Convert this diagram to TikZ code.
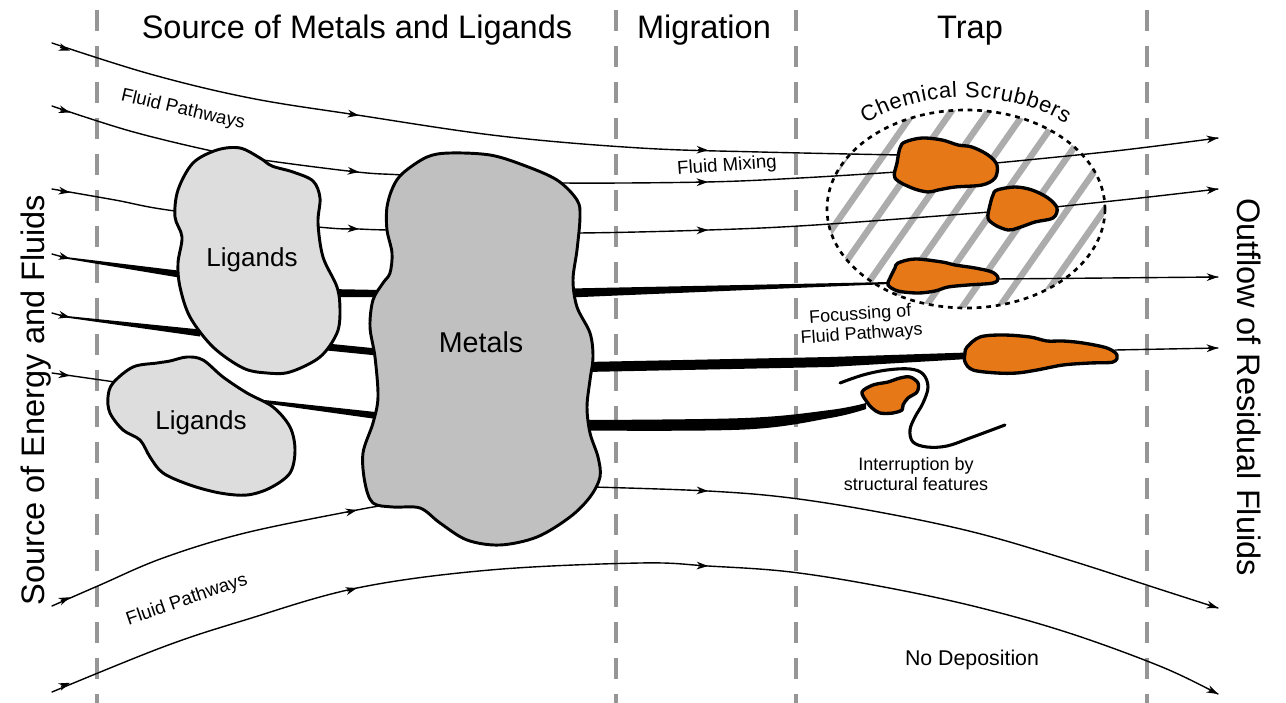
\documentclass[tikz,border=0pt]{standalone}
\usepackage{fontspec}
\setmainfont{Liberation Sans}
\usetikzlibrary{arrows.meta,decorations.text}
\definecolor{orangefill}{RGB}{230,120,23}
\definecolor{ligfill}{RGB}{221,221,221}
\definecolor{metfill}{RGB}{192,192,192}
\definecolor{dashgray}{RGB}{150,150,150}
\definecolor{hatchgray}{RGB}{172,172,172}
\begin{document}
\begin{tikzpicture}[x=0.75pt,y=-0.75pt,
  flow/.style={line width=1.05pt, line cap=round},
  tip/.style={line width=1.05pt, -{Stealth[length=8.5pt,width=5.8pt]}},
  thick flow/.style={fill=black},
  divider/.style={dashgray, line width=2.3pt, dash pattern=on 16pt off 11pt},
  hatch/.style={hatchgray, line width=4.8pt},
  scrub/.style={black, line width=2pt, dash pattern=on 3.6pt off 3.6pt},
  ligblob/.style={draw=black, fill=ligfill, line width=2.2pt, line join=round},
  metblob/.style={draw=black, fill=metfill, line width=2.2pt, line join=round},
  oreblob/.style={draw=black, fill=orangefill, line width=2.5pt, line join=round},
  fault/.style={black, line width=2.3pt, line cap=round},
  title/.style={font=\fontsize{24.4}{28}\selectfont, anchor=base},
  lbl/.style={font=\fontsize{13.5}{15}\selectfont, align=center},
  blobtext/.style={font=\fontsize{19.5}{22}\selectfont},
]
\useasboundingbox (0,0) rectangle (1286,703);
\fill[white] (0,0) rectangle (1286,703);

% dashed dividers
\foreach \xx/\nm in {97/d1,616/d2,796/d3,1147/d4}{
  \coordinate (\nm top) at (\xx,10);
  \coordinate (\nm bot) at (\xx,703);
  \draw[divider] (\nm top) -- (\nm bot);
}

% chemical scrubbers hatch
\coordinate (scrubc) at (966,209);
\begin{scope}
  \clip (scrubc) ellipse [x radius=139, y radius=99];
  \foreach \k in {-6,...,6}{
    \draw[hatch] ({957+37*\k-84},329) -- ({957+37*\k+84},89);
  }
\end{scope}
\draw[scrub] (scrubc) ellipse [x radius=139, y radius=99];
\path[decorate, decoration={text along path, text align={fit to path},
   text={|\fontsize{16.5}{18}\selectfont|Chemical Scrubbers}}]
   (865.4,123.6) arc[start angle=230, end angle=310, x radius=156, y radius=112];

% thin flow lines
\draw[flow] plot[smooth, tension=0.6] coordinates {(52,43) (150,74) (250,98) (357,115) (500,136) (640,148) (760,152) (900,155)};
\draw[flow] plot[smooth, tension=0.6] coordinates {(996,163) (1115,151) (1218,138)};
\draw[flow] plot[smooth, tension=0.6] coordinates {(52,106) (130,131) (212,151) (263,160) (357,172) (403,175) (480,180) (563,183) (706,182) (800,178) (897,172)};
\draw[flow] plot[smooth, tension=0.6] coordinates {(52,189) (115,200) (175,211) (318,227) (359,229) (387,230) (480,232) (578,233) (708,230) (815,225) (990,212)};
\draw[flow] plot[smooth, tension=0.6] coordinates {(1055,207) (1140,198) (1218,189)};
\draw[flow] (52,254) -- (62,256.8);
\draw[flow] (996,279) -- (1218,277);
\draw[flow] (52,313) -- (62,315.8);
\draw[flow] (1115,350) -- (1218,348);
\draw[flow] (52,373) -- (115,382);
\draw[flow] plot[smooth, tension=0.6] coordinates {(52,606) (100,585) (163,558) (245,533) (357,510) (387,505)};
\draw[flow] plot[smooth, tension=0.6] coordinates {(592,487) (708,491) (791,498) (884,513) (977,533) (1069,560) (1162,590) (1218,608)};
\draw[flow] plot[smooth, tension=0.6] coordinates {(52,692) (163,647) (245,620) (357,588) (490,570) (640,563) (708,566) (791,572) (884,587) (977,607) (1069,633) (1162,667) (1218,694)};

% thick flow bands
\fill[thick flow] (60,256.3) -- (182,271) -- (182,278) -- (60,257.7) -- cycle;
\fill[thick flow] (328,289) -- (382,290) -- (382,297) -- (328,297) -- cycle;
\fill[thick flow] (570,288.5) -- (890,282) -- (890,284) -- (570,297.5) -- cycle;
\fill[thick flow] (60,315.3) -- (200,329.5) -- (200,336.5) -- (60,316.7) -- cycle;
\fill[thick flow] (322,343) -- (382,349) -- (382,356) -- (322,350) -- cycle;
\fill[thick flow] (585,362) -- (830,357) -- (968,352.5) -- (968,359) -- (830,367) -- (585,372) -- cycle;
\fill[thick flow] (255,399) -- (380,412.5) -- (380,419.5) -- (255,402) -- cycle;
\fill[thick flow] plot[smooth, tension=0.6] coordinates {(582,420) (745,418) (830,410) (866,403)}
   -- plot[smooth, tension=0.6] coordinates {(866,409) (830,418) (745,429.5) (582,430.5)} -- cycle;

% ligands and metals
\draw[ligblob] plot[smooth cycle, tension=0.55] coordinates {(217,150) (240,148) (260,158) (272,166) (293,172) (313,181) (320,198) (318,223) (323,257) (337,287) (340,310) (337,333) (320,357) (290,372) (267,373) (243,368) (213,347) (190,317) (180,287) (178,263) (182,237) (175,217) (178,190) (193,163)};
\draw[ligblob] plot[smooth cycle, tension=0.55] coordinates {(113,383) (133,367) (157,363) (170,361) (187,357) (203,360) (223,377) (247,393) (273,407) (290,427) (295,450) (290,473) (270,488) (247,495) (220,493) (190,485) (163,473) (150,457) (140,440) (123,430) (110,413) (108,397)};
\draw[metblob] plot[smooth cycle, tension=0.55] coordinates {(403,173) (427,157) (450,153) (490,155) (523,165) (557,180) (577,200) (580,217) (577,250) (573,280) (577,307) (590,333) (593,357) (590,380) (587,407) (590,433) (598,457) (600,477) (590,497) (570,517) (537,537) (500,545) (467,540) (440,523) (420,508) (393,507) (373,503) (365,483) (363,453) (373,423) (378,397) (375,357) (370,327) (373,300) (383,283) (390,273) (392,253) (387,230) (387,207) (393,187)};

% ore deposits
\draw[oreblob] plot[smooth cycle, tension=0.55] coordinates {(905,142) (922,138) (942,140) (958,145) (972,147) (988,155) (997,165) (995,178) (982,185) (955,187) (938,190) (928,192) (912,188) (895,178) (897,163) (900,148)};
\draw[oreblob] plot[smooth cycle, tension=0.55] coordinates {(997,190) (1015,187) (1032,190) (1048,198) (1057,208) (1053,218) (1035,222) (1018,228) (1008,230) (995,225) (988,218) (990,205) (993,195)};
\draw[oreblob] plot[smooth cycle, tension=0.55] coordinates {(898,263) (915,259) (942,262) (955,265) (975,268) (992,272) (998,278) (993,283) (968,285) (948,287) (935,291) (918,293) (898,291) (888,285) (890,278) (895,268)};
\draw[oreblob] plot[smooth cycle, tension=0.55] coordinates {(967,347) (980,337) (1003,335) (1030,337) (1047,341) (1063,341) (1083,343) (1107,348) (1117,355) (1113,362) (1090,363) (1063,365) (1037,370) (1017,373) (997,373) (973,370) (965,362) (965,353)};
\draw[oreblob] plot[smooth cycle, tension=0.55] coordinates {(862,392) (873,385) (888,382) (900,378) (910,377) (918,383) (917,392) (908,398) (903,405) (902,410) (893,413) (880,413) (872,408) (867,402)};

% structural feature
\draw[fault] plot[smooth, tension=0.6] coordinates {(840,383) (863,375) (887,370) (910,369) (923,374) (928,387) (923,403) (915,417) (910,430) (913,442) (927,447) (947,446) (970,438) (1005,425)};

% arrow tips
\draw[tip] (60,47.3) -- (70,50.6);
\draw[tip] (349,113.8) -- (359,115.5);
\draw[tip] (698,149.8) -- (708,150.2);
\draw[tip] (1208,139.3) -- (1218,138);
\draw[tip] (60,109.5) -- (70,112.5);
\draw[tip] (349,170.9) -- (359,172);
\draw[tip] (698,182.2) -- (708,182);
\draw[tip] (60,190.8) -- (70,192.5);
\draw[tip] (349,228.5) -- (359,229);
\draw[tip] (698,230.3) -- (708,230);
\draw[tip] (1208,190.2) -- (1218,189);
\draw[tip] (60,256.2) -- (70,258.7);
\draw[tip] (1208,277.1) -- (1218,277);
\draw[tip] (60,315) -- (70,317.3);
\draw[tip] (1208,348.2) -- (1218,348);
\draw[tip] (60,374.4) -- (70,375.8);
\draw[tip] (61,601) -- (70,597.2);
\draw[tip] (347,512.2) -- (357,510);
\draw[tip] (698,490.5) -- (708,491);
\draw[tip] (1208.5,605) -- (1218,608);
\draw[tip] (61,686.4) -- (70,682.8);
\draw[tip] (347,590.8) -- (357,588);
\draw[tip] (698,565.6) -- (708,566);
\draw[tip] (1209,689.5) -- (1218,694);

% titles
\node[title] (t1) at (357,38) {Source of Metals and Ligands};
\node[title] (t2) at (704,38) {Migration};
\node[title] (t3) at (970,38) {Trap};
\node[title, rotate=90] (t4) at (45,400) {Source of Energy and Fluids};
\node[title, rotate=-90] (t5) at (1237,387) {Outflow of Residual Fluids};

% labels
\node[blobtext] (lig1) at (252,260) {Ligands};
\node[blobtext] (lig2) at (201,423) {Ligands};
\node[font=\fontsize{21.5}{24}\selectfont] (met) at (481,342) {Metals};
\node[lbl, font=\fontsize{14}{16}\selectfont, rotate=-13] (fp1) at (183,110) {Fluid Pathways};
\node[lbl, font=\fontsize{14}{16}\selectfont, rotate=19] (fp2) at (187,600) {Fluid Pathways};
\node[lbl, font=\fontsize{14}{16}\selectfont, rotate=4] (fm) at (727,166) {Fluid Mixing};
\node[lbl, rotate=4] (foc) at (861,325) {Focussing of\\Fluid Pathways};
\node[lbl] (intr) at (916,474) {Interruption by\\structural features};
\node[font=\fontsize{16}{18}\selectfont] (nodep) at (972,660) {No Deposition};
\end{tikzpicture}
\end{document}
